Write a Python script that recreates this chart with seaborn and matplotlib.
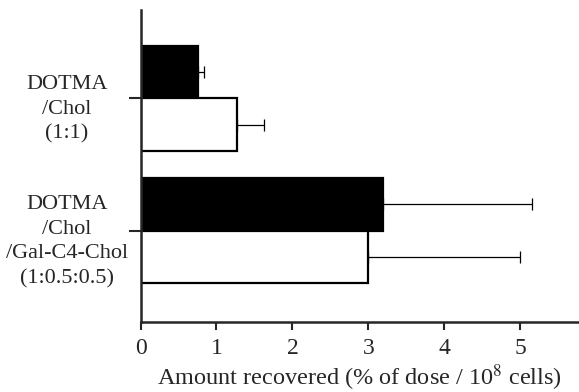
import pandas as pd
import numpy as np
import seaborn as sns
import matplotlib.pyplot as plt
import matplotlib.transforms as mtransforms

#data
formulations = ["DOTMA\n/Chol\n(1:1)",
                "DOTMA\n/Chol\n/Gal-C4-Chol\n(1:0.5:0.5)"]
series = ["filled", "open"]
filled_vals = [0.76, 3.19]
open_vals = [1.27, 3.00]
filled_err = [0.07, 1.97]
open_err = [0.35, 2.00]

df = pd.DataFrame({
    "formulation": formulations * 2,
    "series": [series[0]] * 2 + [series[1]] * 2,
    "amount": filled_vals + open_vals,
    "err": filled_err + open_err,
})

sns.set_style("ticks")
plt.rcParams["font.family"] = ["Liberation Serif", "DejaVu Serif"]
plt.rcParams["mathtext.fontset"] = "stix"

fig = plt.figure(figsize=(5.79, 3.92), dpi=100)
ax = fig.add_axes([0.2427, 0.1793, 0.757, 0.7952])

sns.barplot(data=df, y="formulation", x="amount", hue="series",
            hue_order=series, order=formulations, orient="h",
            palette={"filled": "black", "open": "white"},
            edgecolor="black", linewidth=1.6, errorbar=None,
            width=0.8, legend=False, ax=ax)

#error bars (positive side only), placed on the drawn bars
for bar in ax.patches:
    if bar.get_width() == 0:
        continue
    w = bar.get_width()
    yc = bar.get_y() + bar.get_height() / 2
    row = df[np.isclose(df["amount"], w)].iloc[0]
    ax.errorbar(w, yc, xerr=[[0], [row["err"]]], fmt="none",
                ecolor="black", elinewidth=0.9, capsize=4.5, capthick=0.9)

ax.set_xlim(0, 5.77)
ax.set_ylim(1.69, -0.67)
ax.set_xticks([0, 1, 2, 3, 4, 5])
ax.set_xlabel("Amount recovered (% of dose / 10$^{8}$ cells)", fontsize=17.5, labelpad=3)
ax.set_ylabel("")

for side in ["top", "right"]:
    ax.spines[side].set_visible(False)
ax.spines["left"].set_linewidth(1.8)
ax.spines["bottom"].set_linewidth(1.8)

ax.tick_params(axis="x", direction="out", length=5.5, width=1.5, labelsize=17, pad=6)
ax.tick_params(axis="y", direction="out", length=9, width=1.5, labelsize=16, pad=44)
shift = mtransforms.ScaledTranslation(0, -4 / 72, fig.dpi_scale_trans)
for lbl in ax.get_yticklabels():
    lbl.set_horizontalalignment("center")
    lbl.set_multialignment("center")
    lbl.set_linespacing(1.4)
    lbl.set_transform(lbl.get_transform() + shift)

plt.savefig("out.png", dpi=100)
